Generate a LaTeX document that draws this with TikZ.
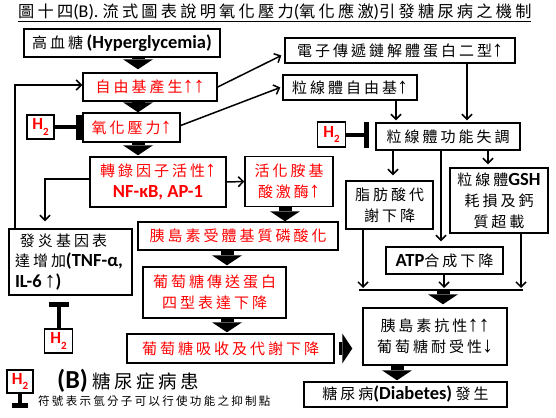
\documentclass[tikz,border=0pt]{standalone}
\usepackage{fontspec}
\setmainfont{Carlito}
\newfontfamily\cjk[LetterSpace=20]{Noto Sans CJK TC}
\newfontfamily\arw{Liberation Sans}
\usetikzlibrary{arrows.meta,calc}
\newcommand{\Up}{{\arw\fontsize{22}{21}\selectfont ↑}}
\newcommand{\Dn}{{\arw\fontsize{22}{21}\selectfont ↓}}
\newcommand{\lat}[1]{{\fontsize{18.5}{21}\selectfont\bfseries #1}}
\newcommand{\Htwo}{{\fontsize{17}{17}\selectfont\bfseries H\raisebox{-0.3em}{\fontsize{11}{11}\selectfont 2}}}
\begin{document}
\begin{tikzpicture}[x=1pt,y=-1pt,
  box/.style={draw, line width=1.4pt, inner sep=0pt, align=center, font=\fontsize{15}{21}\selectfont},
  redtxt/.style={text=red},
  thinarr/.style={line width=1.5pt, -{Straight Barb[length=5pt,width=10pt]}},
  plainln/.style={line width=1.5pt},
  blk/.style={line width=13pt, -{Triangle[width=30pt,length=10pt,line width=0pt]}},
  inhl/.style={line width=4pt},
  inhb/.style={line width=5.5pt},
  htwo/.style={box, text=red, minimum width=28pt, minimum height=24pt}
]
\path[fill=white, use as bounding box] (0,0) rectangle (556,417);

% title
\node[anchor=west, inner sep=0pt, font=\fontsize{16.2}{19}\selectfont] (title) at (18,13)
  {\underline{{\cjk 圖十四}{\fontsize{18}{19}\selectfont(B). }{\cjk 流式圖表說明氧化壓力}{\fontsize{18}{19}\selectfont(}{\cjk 氧化應激}{\fontsize{18}{19}\selectfont)}{\cjk 引發糖尿病之機制}}};

% left column
\node[box, minimum width=196pt, minimum height=28pt] (hg) at (122,43)
  {{\cjk 高血糖} \lat{(Hyperglycemia)}};
\node[box, redtxt, minimum width=134pt, minimum height=28pt] (fr) at (150,87)
  {{\cjk 自由基產生}\Up\Up};
\node[box, redtxt, minimum width=97pt, minimum height=29pt] (os) at (131.5,127.5)
  {{\cjk 氧化壓力}\Up};
\node[htwo, minimum width=27pt] (h2a) at (40.5,127) {\Htwo};
\node[box, redtxt, minimum width=136pt, minimum height=50pt] (tf) at (158,182)
  {{\cjk 轉錄因子活性}\Up\\\lat{NF-κB, AP-1}};
\node[box, redtxt, minimum width=88pt, minimum height=50pt] (aak) at (289,181.5)
  {{\cjk 活化胺基}\\{\cjk 酸激酶}\Up};
\node[box, redtxt, minimum width=200pt, minimum height=28pt] (irs) at (238,236)
  {{\cjk 胰島素受體基質磷酸化}};
\node[box, redtxt, minimum width=143pt, minimum height=51pt] (glut) at (214.5,292.5)
  {{\cjk 葡萄糖傳送蛋白}\\{\cjk 四型表達下降}};
\node[box, redtxt, minimum width=207pt, minimum height=29pt] (gu) at (230.5,348.5)
  {{\cjk 葡萄糖吸收及代謝下降}};
\node[box, align=left, text width=111pt, inner xsep=6pt, minimum height=66pt, font=\fontsize{15}{20.5}\selectfont] (inf) at (70.5,262)
  {\hspace*{5pt}{\cjk 發炎基因表}\\{\cjk 達增加}\lat{(TNF-α,}\\\lat{IL-6\,}\smash{\Up}\lat{)}};
\node[htwo] (h2b) at (58.5,341) {\Htwo};

% right column
\node[box, minimum width=230pt, minimum height=25pt] (etc) at (400,50.5)
  {{\cjk 電子傳遞鏈解體蛋白二型}\Up};
\node[box, minimum width=134pt, minimum height=25pt] (mfr) at (350,87.5)
  {{\cjk 粒線體自由基}\Up};
\node[htwo, minimum height=25pt] (h2c) at (331.5,134.5) {\Htwo};
\node[box, minimum width=144pt, minimum height=27pt] (mdys) at (448,136.5)
  {{\cjk 粒線體功能失調}};
\node[box, minimum width=87pt, minimum height=48pt] (fa) at (389.5,205)
  {{\cjk 脂肪酸代}\\{\cjk 謝下降}};
\node[box, minimum width=98pt, minimum height=65pt] (gsh) at (499,200.5)
  {{\cjk 粒線體}\lat{GSH}\\{\cjk 耗損及鈣}\\{\cjk 質超載}};
\node[box, minimum width=117pt, minimum height=27pt] (atp) at (444.5,260.5)
  {\lat{ATP}{\cjk 合成下降}};
\node[box, minimum width=144pt, minimum height=57pt] (ir) at (435,336.5)
  {{\cjk 胰島素抗性}\Up\Up\\{\cjk 葡萄糖耐受性}\Dn};
\node[box, minimum width=203pt, minimum height=25pt] (dm) at (405.5,394.5)
  {{\cjk 糖尿病}\lat{(Diabetes)} {\cjk 發生}};

% legend
\node[htwo, minimum width=26pt, minimum height=23pt] (h2d) at (20,381.5) {\Htwo};
\node[anchor=west, inner sep=0pt, font=\fontsize{18.5}{20}\selectfont] (legb) at (57,381)
  {{\fontsize{26}{26}\selectfont\bfseries (B)}\ {\cjk 糖尿症病患}};
\node[anchor=west, inner sep=0pt, font=\fontsize{11.5}{13}\selectfont] (legs) at (38,401)
  {{\cjk 符號表示氫分子可以行使功能之抑制點}};

% column coordinates
\coordinate (xa) at (138,0);
\coordinate (xaak) at (285,0);
\coordinate (xm) at (227,0);
\coordinate (xb) at (396,0);
\coordinate (xc) at (467,0);
\coordinate (xd) at (393,0);
\coordinate (xe) at (441,0);
\coordinate (xf) at (488,0);
\coordinate (xg) at (363,0);
\coordinate (xh) at (444,0);
\coordinate (xi) at (521,0);
\coordinate (xo) at (443,0);
\coordinate (xn) at (397,0);
\coordinate (xj) at (45,0);
\coordinate (xk) at (15,0);
\coordinate (ml) at (359,290);
\coordinate (mr) at (523,290);

% block arrows
\draw[blk, shorten >=3pt] (hg.south -| xa) -- (fr.north -| xa);
\draw[blk] (fr.south -| xa) -- (os.north -| xa);
\draw[blk, shorten >=1pt] (os.south -| xa) -- (tf.north -| xa);
\draw[blk] (aak.south -| xaak) -- (irs.north -| xaak);
\draw[blk, shorten >=1pt] (irs.south -| xm) -- (glut.north -| xm);
\draw[blk, shorten >=1pt] (glut.south -| xm) -- (gu.north -| xm);
\draw[blk, shorten <=4pt, shorten >=10pt] (gu.east) -- (gu.east -| ir.west);
\draw[blk, shorten >=3pt] (ml -| xo) -- (ir.north -| xo);
\draw[blk, shorten >=1pt] (ir.south -| xn) -- (dm.north -| xn);

% thin arrows
\draw[thinarr] (fr.east) -- ([xshift=-3pt,yshift=-5pt]etc.west);
\draw[thinarr] ([yshift=2pt]os.east) -- ([xshift=-2pt]mfr.west);
\draw[thinarr, shorten >=2pt] (mfr.south -| xb) -- (mdys.north -| xb);
\draw[thinarr, shorten >=2pt] (etc.south -| xc) -- (mdys.north -| xc);
\draw[thinarr, shorten >=5pt] (mdys.south -| xd) -- (fa.north -| xd);
\draw[thinarr, shorten >=5pt] (mdys.south -| xe) -- (atp.north -| xe);
\draw[thinarr, shorten >=3pt] (mdys.south -| xf) -- (gsh.north -| xf);
\draw[thinarr, shorten >=2pt] (fa.south -| xg) -- (ml -| xg);
\draw[thinarr, shorten >=2pt] (atp.south -| xh) -- (ml -| xh);
\draw[thinarr, shorten >=2pt] (gsh.south -| xi) -- (ml -| xi);
\draw[plainln] (ml) -- (mr);
\draw[thinarr] (tf.east) -- (aak.west);
\draw[thinarr, shorten >=7pt] ([yshift=3pt]tf.west) -| (inf.north -| xj);
\draw[thinarr] (inf.north -| xk) |- ([yshift=2pt]fr.west);

% inhibitors
\draw[inhl] (h2a.east) -- ([xshift=-3.5pt]h2a.east -| os.west) coordinate (ba);
\draw[inhb] ([yshift=12.5pt]ba) -- ([yshift=-12.5pt]ba);
\draw[inhl] (h2c.east) -- ([xshift=-9pt]h2c.east -| mdys.west) coordinate (bc);
\draw[inhb] ([yshift=13pt]bc) -- ([yshift=-13pt]bc);
\draw[inhl] (h2b.north) -- ([yshift=-9pt]h2b.north |- inf.south) coordinate (bb);
\draw[inhb] ([xshift=-10pt]bb) -- ([xshift=10pt]bb);
\draw[inhl] (h2d.south) -- ([yshift=-12pt]h2d.south) coordinate (bd);
\draw[inhb] ([xshift=-8pt]bd) -- ([xshift=8pt]bd);
\end{tikzpicture}
\end{document}
